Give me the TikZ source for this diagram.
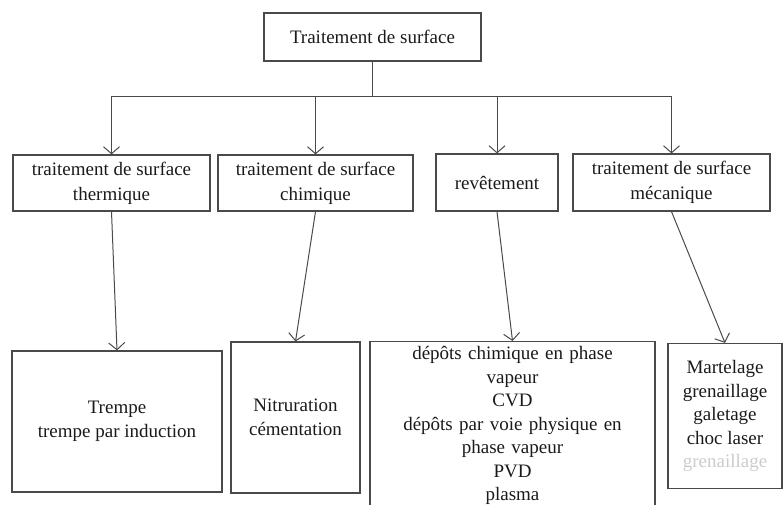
\documentclass[tikz,border=0pt]{standalone}
\usepackage{fontspec}
\setmainfont{Liberation Serif}
\usetikzlibrary{arrows.meta, positioning}
\definecolor{ink}{HTML}{1A1A1A}
\definecolor{wire}{HTML}{4A4A4A}

\begin{document}
\begin{tikzpicture}[x=1pt, y=-1pt, >={Straight Barb[length=7pt,width=16pt]},
  box/.style={draw=wire, line width=1.2pt, align=center, inner sep=0pt, text=ink,
    font=\fontsize{19}{23.5}\selectfont},
  pair/.style={box, minimum height=56pt, font=\fontsize{19}{25}\selectfont},
  link/.style={draw=wire, line width=1pt}]
  \useasboundingbox (0,0) rectangle (784,504);
  \clip (0,0) rectangle (784,504);
  % Root box
  \node[box, minimum width=217pt, minimum height=48pt] (root) at (372.5,37) {Traitement de surface};
  % Families
  \node[pair, minimum width=197pt] (therm) at (111.5,183) {traitement de surface\\thermique};
  \node[pair, minimum width=195pt] (chim) at (315.5,183) {traitement de surface\\chimique};
  \node[pair, minimum width=122pt, minimum height=57pt] (revet) at (497,182.5) {rev\^etement};
  \node[pair, minimum width=197pt, minimum height=57pt] (meca) at (671.5,182.5) {traitement de surface\\m\'ecanique};
  % Processes
  \node[box, minimum width=210pt, minimum height=141pt] (trempe) at (117,421.5) {Trempe\\trempe par induction};
  \node[box, minimum width=129pt, minimum height=151pt] (nitru) at (295.5,417.5) {Nitruration\\c\'ementation};
  \node[box, anchor=north, text width=285pt, inner ysep=5pt] (depot) at (512.5,341)
    {d\'ep\^ots chimique en phase\\vapeur\\CVD\\d\'ep\^ots par voie physique en\\phase vapeur\\PVD\\plasma};
  \node[box, minimum width=114pt, minimum height=145pt] (marte) at (725,416)
    {Martelage\\grenaillage\\galetage\\choc laser\\{\color{gray!40}grenaillage}};
  % Tree connectors
  \coordinate (bus) at (0,96);
  \draw[link] (root.south) -- (root.south |- bus);
  \draw[link] (therm.north |- bus) -- (meca.north |- bus);
  \foreach \n in {therm, chim, revet, meca}
    \draw[link, ->] (\n.north |- bus) -- (\n.north);
  % Family to process
  \draw[link, ->] (therm.south) -- (trempe.north);
  \draw[link, ->] (chim.south) -- (nitru.north);
  \draw[link, ->] (revet.south) -- (depot.north);
  \draw[link, ->] (meca.south) -- (marte.north);
\end{tikzpicture}
\end{document}
